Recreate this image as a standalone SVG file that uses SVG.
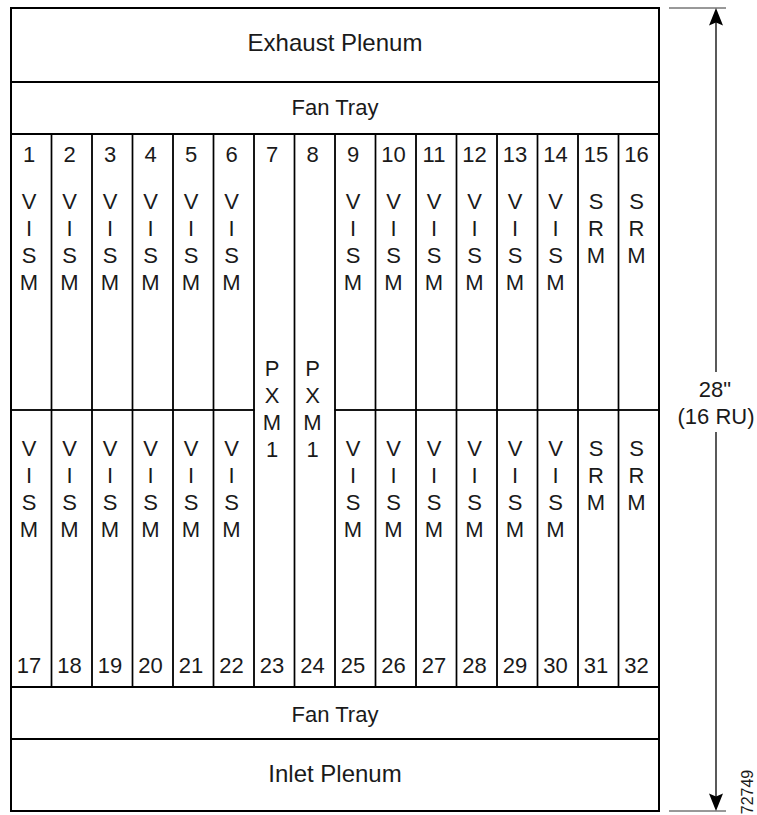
<svg xmlns="http://www.w3.org/2000/svg" width="757" height="815" viewBox="0 0 757 815">
<defs>
<style>
text{font-family:"Liberation Sans",Arial,Helvetica,sans-serif;fill:#1a1a1a;text-anchor:middle}
.t{font-size:22px}
.big{font-size:24px}
.box{fill:#fff;stroke:#000;stroke-width:2}
.slot{fill:none;stroke:#000;stroke-width:1.4}
.dim{stroke:#000;stroke-width:1.3;fill:none}
.tick{stroke:#333;stroke-width:1}
.id{font-size:16px}
</style>
</defs>
<rect width="757" height="815" fill="#fff"/>
<g id="exhaust-plenum"><rect class="box" x="11" y="8" width="648" height="74"/><text class="big" x="335" y="51">Exhaust Plenum</text></g>
<g id="fan-tray-top"><rect class="box" x="11" y="82" width="648" height="52"/><text class="t" x="335" y="115">Fan Tray</text></g>
<g id="slots-upper" class="t">
<g id="slot-1"><rect class="slot" x="11" y="134" width="40.5" height="276"/><text x="29" y="162">1</text><text x="29" y="208.5">V<tspan x="29" dy="27">I</tspan><tspan x="29" dy="27">S</tspan><tspan x="29" dy="27">M</tspan></text></g>
<g id="slot-2"><rect class="slot" x="51.5" y="134" width="40.5" height="276"/><text x="69.5" y="162">2</text><text x="69.5" y="208.5">V<tspan x="69.5" dy="27">I</tspan><tspan x="69.5" dy="27">S</tspan><tspan x="69.5" dy="27">M</tspan></text></g>
<g id="slot-3"><rect class="slot" x="92" y="134" width="40.5" height="276"/><text x="110" y="162">3</text><text x="110" y="208.5">V<tspan x="110" dy="27">I</tspan><tspan x="110" dy="27">S</tspan><tspan x="110" dy="27">M</tspan></text></g>
<g id="slot-4"><rect class="slot" x="132.5" y="134" width="40.5" height="276"/><text x="150.5" y="162">4</text><text x="150.5" y="208.5">V<tspan x="150.5" dy="27">I</tspan><tspan x="150.5" dy="27">S</tspan><tspan x="150.5" dy="27">M</tspan></text></g>
<g id="slot-5"><rect class="slot" x="173" y="134" width="40.5" height="276"/><text x="191" y="162">5</text><text x="191" y="208.5">V<tspan x="191" dy="27">I</tspan><tspan x="191" dy="27">S</tspan><tspan x="191" dy="27">M</tspan></text></g>
<g id="slot-6"><rect class="slot" x="213.5" y="134" width="40.5" height="276"/><text x="231.5" y="162">6</text><text x="231.5" y="208.5">V<tspan x="231.5" dy="27">I</tspan><tspan x="231.5" dy="27">S</tspan><tspan x="231.5" dy="27">M</tspan></text></g>
<g id="slot-7-23"><rect class="slot" x="254" y="134" width="40.5" height="553"/><text x="272" y="162">7</text><text x="272" y="376">P<tspan x="272" dy="27">X</tspan><tspan x="272" dy="27">M</tspan><tspan x="272" dy="27">1</tspan></text><text x="272" y="673">23</text></g>
<g id="slot-8-24"><rect class="slot" x="294.5" y="134" width="40.5" height="553"/><text x="312.5" y="162">8</text><text x="312.5" y="376">P<tspan x="312.5" dy="27">X</tspan><tspan x="312.5" dy="27">M</tspan><tspan x="312.5" dy="27">1</tspan></text><text x="312.5" y="673">24</text></g>
<g id="slot-9"><rect class="slot" x="335" y="134" width="40.5" height="276"/><text x="353" y="162">9</text><text x="353" y="208.5">V<tspan x="353" dy="27">I</tspan><tspan x="353" dy="27">S</tspan><tspan x="353" dy="27">M</tspan></text></g>
<g id="slot-10"><rect class="slot" x="375.5" y="134" width="40.5" height="276"/><text x="393.5" y="162">10</text><text x="393.5" y="208.5">V<tspan x="393.5" dy="27">I</tspan><tspan x="393.5" dy="27">S</tspan><tspan x="393.5" dy="27">M</tspan></text></g>
<g id="slot-11"><rect class="slot" x="416" y="134" width="40.5" height="276"/><text x="434" y="162">11</text><text x="434" y="208.5">V<tspan x="434" dy="27">I</tspan><tspan x="434" dy="27">S</tspan><tspan x="434" dy="27">M</tspan></text></g>
<g id="slot-12"><rect class="slot" x="456.5" y="134" width="40.5" height="276"/><text x="474.5" y="162">12</text><text x="474.5" y="208.5">V<tspan x="474.5" dy="27">I</tspan><tspan x="474.5" dy="27">S</tspan><tspan x="474.5" dy="27">M</tspan></text></g>
<g id="slot-13"><rect class="slot" x="497" y="134" width="40.5" height="276"/><text x="515" y="162">13</text><text x="515" y="208.5">V<tspan x="515" dy="27">I</tspan><tspan x="515" dy="27">S</tspan><tspan x="515" dy="27">M</tspan></text></g>
<g id="slot-14"><rect class="slot" x="537.5" y="134" width="40.5" height="276"/><text x="555.5" y="162">14</text><text x="555.5" y="208.5">V<tspan x="555.5" dy="27">I</tspan><tspan x="555.5" dy="27">S</tspan><tspan x="555.5" dy="27">M</tspan></text></g>
<g id="slot-15"><rect class="slot" x="578" y="134" width="40.5" height="276"/><text x="596" y="162">15</text><text x="596" y="209">S<tspan x="596" dy="27">R</tspan><tspan x="596" dy="27">M</tspan></text></g>
<g id="slot-16"><rect class="slot" x="618.5" y="134" width="40.5" height="276"/><text x="636.5" y="162">16</text><text x="636.5" y="209">S<tspan x="636.5" dy="27">R</tspan><tspan x="636.5" dy="27">M</tspan></text></g>
</g>
<g id="slots-lower" class="t">
<g id="slot-17"><rect class="slot" x="11" y="410" width="40.5" height="277"/><text x="29" y="455.5">V<tspan x="29" dy="27">I</tspan><tspan x="29" dy="27">S</tspan><tspan x="29" dy="27">M</tspan></text><text x="29" y="673">17</text></g>
<g id="slot-18"><rect class="slot" x="51.5" y="410" width="40.5" height="277"/><text x="69.5" y="455.5">V<tspan x="69.5" dy="27">I</tspan><tspan x="69.5" dy="27">S</tspan><tspan x="69.5" dy="27">M</tspan></text><text x="69.5" y="673">18</text></g>
<g id="slot-19"><rect class="slot" x="92" y="410" width="40.5" height="277"/><text x="110" y="455.5">V<tspan x="110" dy="27">I</tspan><tspan x="110" dy="27">S</tspan><tspan x="110" dy="27">M</tspan></text><text x="110" y="673">19</text></g>
<g id="slot-20"><rect class="slot" x="132.5" y="410" width="40.5" height="277"/><text x="150.5" y="455.5">V<tspan x="150.5" dy="27">I</tspan><tspan x="150.5" dy="27">S</tspan><tspan x="150.5" dy="27">M</tspan></text><text x="150.5" y="673">20</text></g>
<g id="slot-21"><rect class="slot" x="173" y="410" width="40.5" height="277"/><text x="191" y="455.5">V<tspan x="191" dy="27">I</tspan><tspan x="191" dy="27">S</tspan><tspan x="191" dy="27">M</tspan></text><text x="191" y="673">21</text></g>
<g id="slot-22"><rect class="slot" x="213.5" y="410" width="40.5" height="277"/><text x="231.5" y="455.5">V<tspan x="231.5" dy="27">I</tspan><tspan x="231.5" dy="27">S</tspan><tspan x="231.5" dy="27">M</tspan></text><text x="231.5" y="673">22</text></g>
<g id="slot-25"><rect class="slot" x="335" y="410" width="40.5" height="277"/><text x="353" y="455.5">V<tspan x="353" dy="27">I</tspan><tspan x="353" dy="27">S</tspan><tspan x="353" dy="27">M</tspan></text><text x="353" y="673">25</text></g>
<g id="slot-26"><rect class="slot" x="375.5" y="410" width="40.5" height="277"/><text x="393.5" y="455.5">V<tspan x="393.5" dy="27">I</tspan><tspan x="393.5" dy="27">S</tspan><tspan x="393.5" dy="27">M</tspan></text><text x="393.5" y="673">26</text></g>
<g id="slot-27"><rect class="slot" x="416" y="410" width="40.5" height="277"/><text x="434" y="455.5">V<tspan x="434" dy="27">I</tspan><tspan x="434" dy="27">S</tspan><tspan x="434" dy="27">M</tspan></text><text x="434" y="673">27</text></g>
<g id="slot-28"><rect class="slot" x="456.5" y="410" width="40.5" height="277"/><text x="474.5" y="455.5">V<tspan x="474.5" dy="27">I</tspan><tspan x="474.5" dy="27">S</tspan><tspan x="474.5" dy="27">M</tspan></text><text x="474.5" y="673">28</text></g>
<g id="slot-29"><rect class="slot" x="497" y="410" width="40.5" height="277"/><text x="515" y="455.5">V<tspan x="515" dy="27">I</tspan><tspan x="515" dy="27">S</tspan><tspan x="515" dy="27">M</tspan></text><text x="515" y="673">29</text></g>
<g id="slot-30"><rect class="slot" x="537.5" y="410" width="40.5" height="277"/><text x="555.5" y="455.5">V<tspan x="555.5" dy="27">I</tspan><tspan x="555.5" dy="27">S</tspan><tspan x="555.5" dy="27">M</tspan></text><text x="555.5" y="673">30</text></g>
<g id="slot-31"><rect class="slot" x="578" y="410" width="40.5" height="277"/><text x="596" y="456">S<tspan x="596" dy="27">R</tspan><tspan x="596" dy="27">M</tspan></text><text x="596" y="673">31</text></g>
<g id="slot-32"><rect class="slot" x="618.5" y="410" width="40.5" height="277"/><text x="636.5" y="456">S<tspan x="636.5" dy="27">R</tspan><tspan x="636.5" dy="27">M</tspan></text><text x="636.5" y="673">32</text></g>
</g>
<g id="fan-tray-bottom"><rect class="box" x="11" y="687" width="648" height="52"/><text class="t" x="335" y="722">Fan Tray</text></g>
<g id="inlet-plenum"><rect class="box" x="11" y="739" width="648" height="72"/><text class="big" x="335" y="782">Inlet Plenum</text></g>
<rect x="11" y="8" width="648" height="803" fill="none" stroke="#000" stroke-width="2"/>
<g id="dimension">
<line class="tick" x1="669" y1="8" x2="726" y2="8"/>
<line class="tick" x1="669" y1="811" x2="726" y2="811"/>
<line class="dim" x1="716" y1="22" x2="716" y2="372"/>
<line class="dim" x1="716" y1="432" x2="716" y2="797"/>
<path d="M716 8 L723 25.5 L716 22.5 L709 25.5 Z" fill="#000"/>
<path d="M716 811 L723 793.5 L716 796.5 L709 793.5 Z" fill="#000"/>
<text class="t" x="715" y="397">28"</text>
<text class="t" x="716" y="424">(16 RU)</text>
</g>
<text class="id" transform="translate(753 792) rotate(-90)">72749</text>
</svg>
